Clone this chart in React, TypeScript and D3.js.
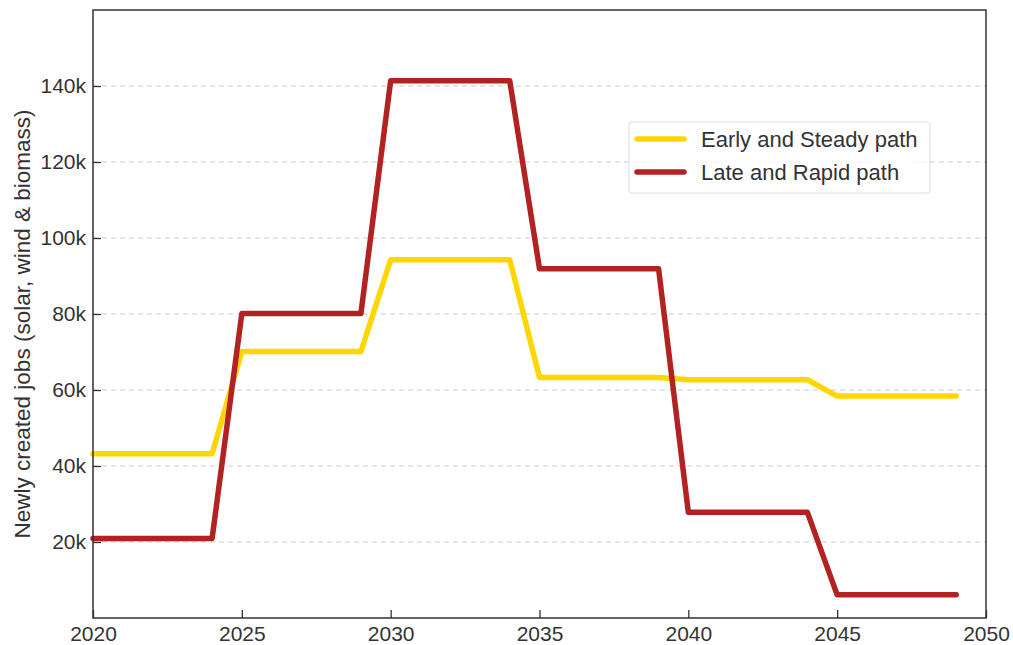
import React, { useRef, useEffect } from "react";
import * as d3 from "d3";

const years = d3.range(2020, 2050);
const earlySteady = [
  43200, 43200, 43200, 43200, 43200,
  70100, 70100, 70100, 70100, 70100,
  94300, 94300, 94300, 94300, 94300,
  63300, 63300, 63300, 63300, 63300,
  62700, 62700, 62700, 62700, 62700,
  58400, 58400, 58400, 58400, 58400,
];
const lateRapid = [
  20900, 20900, 20900, 20900, 20900,
  80100, 80100, 80100, 80100, 80100,
  141400, 141400, 141400, 141400, 141400,
  91900, 91900, 91900, 91900, 91900,
  27800, 27800, 27800, 27800, 27800,
  6100, 6100, 6100, 6100, 6100,
];
const seriesNames = ["Early and Steady path", "Late and Rapid path"];
const seriesColors = ["#FFD700", "#B22222"];
const xTicks = [2020, 2025, 2030, 2035, 2040, 2045, 2050];
const yTicks = [20000, 40000, 60000, 80000, 100000, 120000, 140000];

const W = 1013;
const H = 645;
const margin = { left: 93, right: 27, top: 10, bottom: 27 };
const FONT = "'Liberation Sans', Arial, sans-serif";

const App: React.FC = () => {
  const svgRef = useRef<SVGSVGElement | null>(null);

  useEffect(() => {
    const svg = d3.select(svgRef.current);
    svg.selectAll("*").remove();

    const x = d3
      .scaleLinear()
      .domain([2020, 2050])
      .range([margin.left, W - margin.right]);
    const y = d3
      .scaleLinear()
      .domain([0, 160000])
      .range([H - margin.bottom, margin.top]);

    // grid
    svg
      .append("g")
      .selectAll("line")
      .data(yTicks)
      .join("line")
      .attr("x1", x(2020))
      .attr("x2", x(2050))
      .attr("y1", (d) => y(d))
      .attr("y2", (d) => y(d))
      .attr("stroke", "#cccccc")
      .attr("stroke-width", 1.2)
      .attr("stroke-dasharray", "5,4");

    const line = d3
      .line<number>()
      .x((_, i) => x(years[i]))
      .y((d) => y(d));

    [earlySteady, lateRapid].forEach((s, i) => {
      svg
        .append("path")
        .datum(s)
        .attr("d", line)
        .attr("fill", "none")
        .attr("stroke", seriesColors[i])
        .attr("stroke-width", 5.5)
        .attr("stroke-linejoin", "round")
        .attr("stroke-linecap", "round");
    });

    // frame
    svg
      .append("rect")
      .attr("x", x(2020))
      .attr("y", y(160000))
      .attr("width", x(2050) - x(2020))
      .attr("height", y(0) - y(160000))
      .attr("fill", "none")
      .attr("stroke", "#333")
      .attr("stroke-width", 1.5);

    // x axis
    const xa = svg
      .append("g")
      .attr("transform", `translate(0,${y(0)})`)
      .call(
        d3
          .axisBottom(x)
          .tickValues(xTicks)
          .tickFormat(d3.format("d"))
          .tickSizeInner(-8)
          .tickSizeOuter(0)
          .tickPadding(8)
      );
    xa.select(".domain").remove();
    xa.selectAll("line").attr("stroke", "#333").attr("stroke-width", 1.3);
    xa.selectAll("text")
      .attr("y", 23)
      .attr("dy", null)
      .attr("fill", "#333")
      .attr("font-size", 21)
      .attr("font-family", FONT);

    // y axis
    const ya = svg
      .append("g")
      .attr("transform", `translate(${x(2020)},0)`)
      .call(
        d3
          .axisLeft(y)
          .tickValues(yTicks)
          .tickFormat((d) => `${(d as number) / 1000}k`)
          .tickSizeInner(-8)
          .tickSizeOuter(0)
          .tickPadding(7)
      );
    ya.select(".domain").remove();
    ya.selectAll("line").attr("stroke", "#333").attr("stroke-width", 1.3);
    ya.selectAll("text")
      .attr("fill", "#333")
      .attr("font-size", 21)
      .attr("font-family", FONT);

    svg
      .append("text")
      .attr("transform", `translate(30,${(y(0) + y(160000)) / 2 + 10}) rotate(-90)`)
      .attr("text-anchor", "middle")
      .attr("fill", "#333")
      .attr("font-size", 22.5)
      .attr("font-family", FONT)
      .text("Newly created jobs (solar, wind & biomass)");

    // legend
    const lg = svg.append("g").attr("transform", "translate(629,122)");
    lg.append("rect")
      .attr("width", 301)
      .attr("height", 71)
      .attr("rx", 3)
      .attr("fill", "white")
      .attr("fill-opacity", 0.85)
      .attr("stroke", "#dddddd")
      .attr("stroke-width", 1);
    seriesNames.forEach((n, i) => {
      const cy = 17 + i * 33;
      lg.append("line")
        .attr("x1", 8)
        .attr("x2", 55)
        .attr("y1", cy)
        .attr("y2", cy)
        .attr("stroke", seriesColors[i])
        .attr("stroke-width", 5.5)
        .attr("stroke-linecap", "round");
      lg.append("text")
        .attr("x", 72)
        .attr("y", cy)
        .attr("dy", "0.35em")
        .attr("fill", "#333")
        .attr("font-size", 22)
        .attr("font-family", FONT)
        .text(n);
    });
  }, []);

  return (
    <svg
      ref={svgRef}
      width={W}
      height={H}
      style={{ position: "absolute", left: 0, top: 0 }}
    ></svg>
  );
};

export default App;
